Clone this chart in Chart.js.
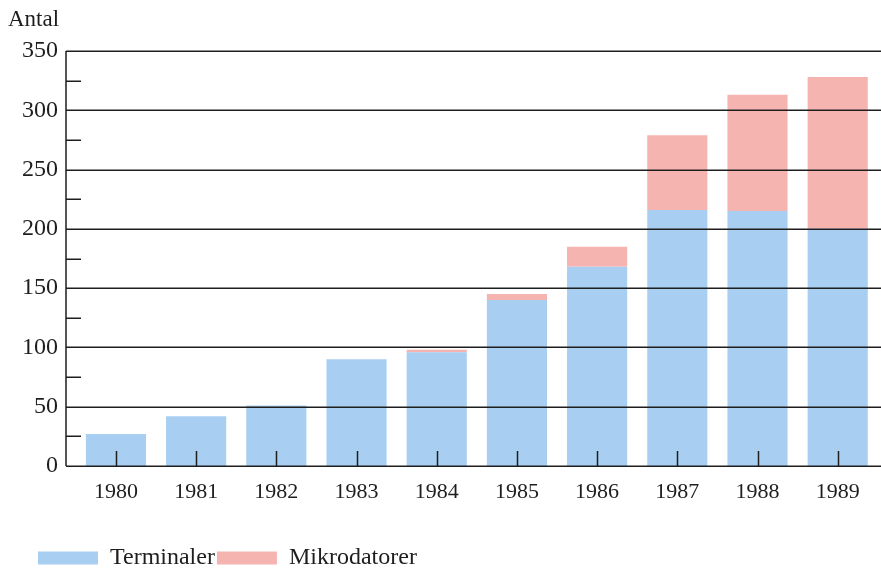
<!DOCTYPE html>
<html><head><meta charset="utf-8">
<script src="https://cdn.jsdelivr.net/npm/chart.js@4/dist/chart.umd.min.js"></script>
<style>html,body{margin:0;padding:0;background:#fff}#wrap{width:881px;height:569px}</style>
</head><body><div id="wrap"><canvas id="c" width="881" height="569"></canvas></div>
<script>
const years = ['1980','1981','1982','1983','1984','1985','1986','1987','1988','1989'];
const terminaler = [27, 42, 51, 90, 96, 140, 168, 216, 215, 200];
const mikrodatorer = [0, 0, 0, 0, 2, 5, 17, 63, 98, 128];
const yTicks = [0, 50, 100, 150, 200, 250, 300, 350];
const yMinorTicks = [25, 75, 125, 175, 225, 275, 325];

const SERIF = '"Liberation Serif", "DejaVu Serif", serif';
const INK = '#1e1e1e';

const overlay = {
  id: 'overlay',
  afterLayout(chart) {
    const lg = chart.legend;
    if (lg) { lg.left = 38 - 2; lg.top += 11; }
  },
  afterDatasetsDraw(chart) {
    const {ctx, chartArea: a, scales: {x, y}} = chart;
    ctx.save();
    ctx.strokeStyle = INK;
    ctx.lineWidth = 1.5;
    yTicks.forEach(v => {
      const py = Math.round(y.getPixelForValue(v)) + 0.25;
      ctx.beginPath(); ctx.moveTo(a.left, py); ctx.lineTo(a.right, py); ctx.stroke();
    });
    yMinorTicks.forEach(v => {
      const py = Math.round(y.getPixelForValue(v)) + 0.25;
      ctx.beginPath(); ctx.moveTo(a.left, py); ctx.lineTo(a.left + 15, py); ctx.stroke();
    });
    years.forEach((_, i) => {
      const px = Math.round(x.getPixelForValue(i)) + 0.5;
      ctx.beginPath(); ctx.moveTo(px, a.bottom); ctx.lineTo(px, a.bottom - 15); ctx.stroke();
    });
    ctx.beginPath(); ctx.moveTo(a.left, a.top); ctx.lineTo(a.left, a.bottom); ctx.stroke();
    ctx.restore();
  }
};

new Chart(document.getElementById('c'), {
  type: 'bar',
  data: {
    datasets: [
      { label: 'Terminaler', data: terminaler.map((v, i) => ({x: i, y: v})),
        backgroundColor: 'rgb(168,207,242)', borderWidth: 0,
        barPercentage: 0.75, categoryPercentage: 1 },
      { label: 'Mikrodatorer', data: mikrodatorer.map((v, i) => ({x: i, y: v})),
        backgroundColor: 'rgb(246,180,176)', borderWidth: 0,
        barPercentage: 0.75, categoryPercentage: 1 }
    ]
  },
  options: {
    responsive: false,
    animation: false,
    layout: { padding: { left: 8, right: 0, top: 0, bottom: 0 } },
    scales: {
      x: {
        type: 'linear', stacked: true, offset: false,
        min: -0.623, max: 9.54,
        grid: { display: false, drawTicks: false },
        border: { display: false },
        ticks: {
          stepSize: 1, includeBounds: false, autoSkip: false, maxRotation: 0,
          padding: 13, color: INK, font: { family: SERIF, size: 22 },
          callback: v => years[v] !== undefined ? years[v] : ''
        },
        afterFit: s => { s.height = 67; }
      },
      y: {
        stacked: true, min: 0, max: 350,
        grid: { display: false, drawTicks: false },
        border: { display: false },
        ticks: { stepSize: 50, padding: 8, color: INK, font: { family: SERIF, size: 24 } },
        afterFit: s => { s.width = 58; }
      }
    },
    plugins: {
      title: {
        display: true, text: 'Antal', align: 'start', color: INK,
        font: { family: SERIF, size: 23, weight: 'normal' },
        padding: { top: 6, bottom: 17.4 }
      },
      legend: {
        display: true, position: 'bottom', align: 'start',
        labels: { boxWidth: 60, boxHeight: 13, padding: 2, color: INK,
          font: { family: SERIF, size: 24 } }
      },
      tooltip: { enabled: false }
    }
  },
  plugins: [overlay]
});
</script>
</body></html>
